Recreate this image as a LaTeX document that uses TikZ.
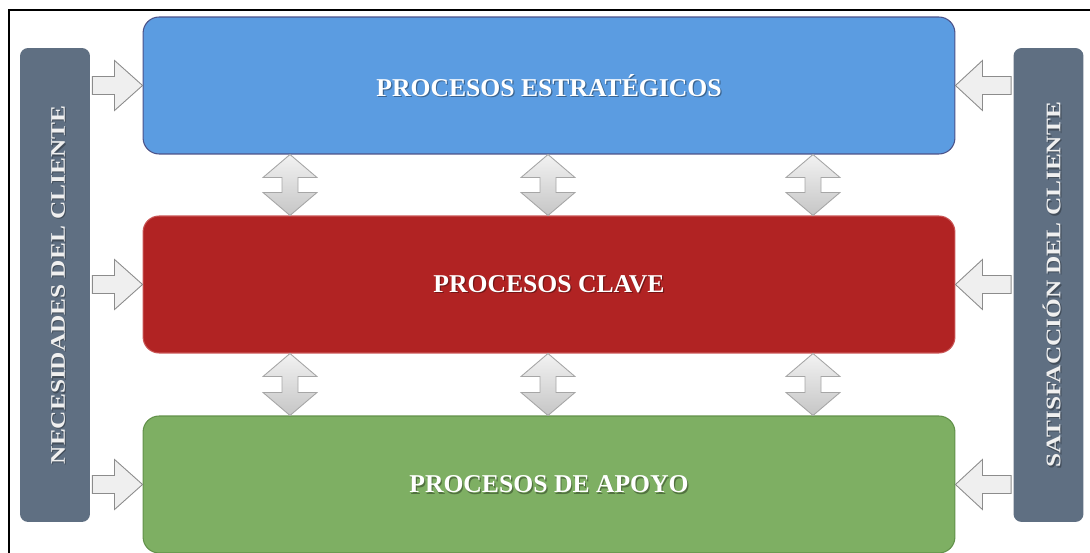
\documentclass[tikz,border=0pt]{standalone}
\usepackage{fontspec}
\setmainfont{Liberation Serif}
\usetikzlibrary{calc}

\definecolor{stratblue}{HTML}{5B9CE1}
\definecolor{stratedge}{HTML}{4B5288}
\definecolor{keyred}{HTML}{B12323}
\definecolor{keyedge}{HTML}{C95454}
\definecolor{supgreen}{HTML}{7EAF63}
\definecolor{supedge}{HTML}{62914A}
\definecolor{barslate}{HTML}{5F6F82}
\definecolor{arrowfill}{HTML}{EFEFEF}
\definecolor{arrowedge}{HTML}{8C8C8C}

% block arrow from a client bar into a process box, pointing right
\newcommand\feedright[2]{%
  \draw[feedarrow] (#1.west) -- ++(-28,-25) -- ++(0,16)
    -- ($(#1.west -| #2.east)+(2,-9)$) -- ++(0,18)
    -- ($(#1.west)+(-28,9)$) -- ++(0,16) -- cycle;}
% block arrow from a client bar into a process box, pointing left
\newcommand\feedleft[2]{%
  \draw[feedarrow] (#1.east) -- ++(27,-25) -- ++(0,16)
    -- ($(#1.east -| #2.west)+(-2,-9)$) -- ++(0,18)
    -- ($(#1.east)+(27,9)$) -- ++(0,16) -- cycle;}
% two-headed vertical arrow between stacked process boxes
\newcommand\linkboxes[3]{%
  \draw[linkarrow] (#1,0 |- #2.south) -- ++(27,23) -- ++(-19,0)
    -- ($(#1,0 |- #3.north)+(8,-23)$) -- ++(19,0)
    -- (#1,0 |- #3.north) -- ++(-27,-23) -- ++(19,0)
    -- ($(#1,0 |- #2.south)+(-8,23)$) -- ++(-19,0) -- cycle;}
% white bold caption with a soft drop shadow
\newcommand\proclabel[3]{%
  \node[proctext, text=black, text opacity=0.35] (#1-shadow) at ($(#2.center)+(1.2,1.2)$) {#3};
  \node[proctext] (#1) at (#2.center) {#3};}
\newcommand\barlabel[3]{%
  \node[bartext, text=black, text opacity=0.3] (#1-shadow) at ($(#2.center)+(4.2,1.2)$) {\scalebox{1}[0.82]{#3}};
  \node[bartext] (#1) at ($(#2.center)+(3,0)$) {\scalebox{1}[0.82]{#3}};}

\begin{document}
\begin{tikzpicture}[x=0.02cm, y=-0.02cm,
  procbox/.style={rounded corners=0.32cm, minimum width=16.24cm,
    minimum height=2.74cm, line width=0.6pt, inner sep=0pt},
  clientbar/.style={rounded corners=0.16cm, fill=barslate,
    minimum width=1.4cm, minimum height=9.48cm, inner sep=0pt},
  proctext/.style={text=white, inner sep=0pt,
    font=\fontsize{14.6}{16}\selectfont\bfseries},
  bartext/.style={text=white!94!black, inner sep=0pt, rotate=90,
    font=\fontsize{14.4}{16}\selectfont\bfseries},
  feedarrow/.style={fill=arrowfill, draw=arrowedge, line width=0.5pt,
    line join=miter},
  linkarrow/.style={top color=gray!10, bottom color=gray!45,
    draw=gray!70, line width=0.5pt, line join=miter}]

\useasboundingbox (0,0) rectangle (1090,553);

% frame
\draw[line width=0.9pt] (9,560) -- (9,10) -- (1092,10);

% process boxes
\node[procbox, draw=stratedge, fill=stratblue] (est) at (549,85.5) {};
\node[procbox, draw=keyedge, fill=keyred] (cla) at (549,284.5) {};
\node[procbox, draw=supedge, fill=supgreen] (apo) at (549,484.5) {};

% client bars
\node[clientbar] (nec) at (55,285) {};
\node[clientbar] (sat) at (1048.5,285) {};

% captions
\proclabel{est-txt}{est}{PROCESOS ESTRATÉGICOS}
\proclabel{cla-txt}{cla}{PROCESOS CLAVE}
\proclabel{apo-txt}{apo}{PROCESOS DE APOYO}
\barlabel{nec-txt}{nec}{NECESIDADES DEL CLIENTE}
\barlabel{sat-txt}{sat}{SATISFACCIÓN DEL CLIENTE}

% inputs and outputs
\feedright{est}{nec}
\feedright{cla}{nec}
\feedright{apo}{nec}
\feedleft{est}{sat}
\feedleft{cla}{sat}
\feedleft{apo}{sat}

% links between process levels
\foreach \xx in {290,548,813}{
  \linkboxes{\xx}{est}{cla}
  \linkboxes{\xx}{cla}{apo}
}
\end{tikzpicture}
\end{document}
